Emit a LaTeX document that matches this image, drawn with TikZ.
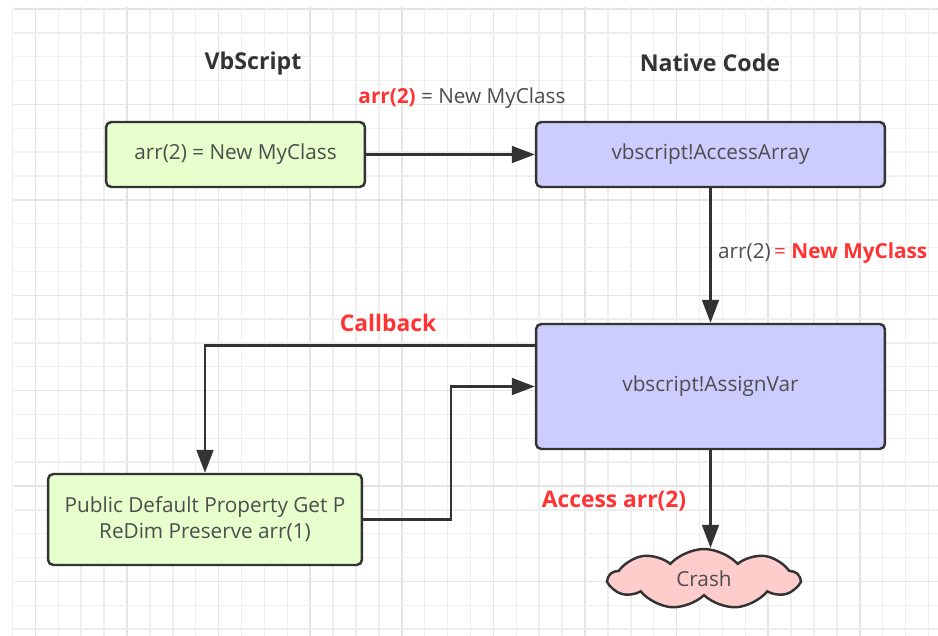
\documentclass[tikz,border=0pt]{standalone}
\usepackage{fontspec}
\setmainfont{Open Sans}
\usepackage{tikz}
\usetikzlibrary{shapes.symbols, positioning, arrows.meta, calc}
\definecolor{GridMinor}{RGB}{238,238,238}
\definecolor{GridMajor}{RGB}{228,228,228}
\definecolor{BoxLine}{RGB}{51,51,51}
\definecolor{BoxText}{RGB}{77,77,77}
\definecolor{VbGreen}{RGB}{230,255,204}
\definecolor{NatPurple}{RGB}{204,204,255}
\definecolor{CrashPink}{RGB}{255,204,204}
\definecolor{HotRed}{RGB}{255,51,51}

\begin{document}
\begin{tikzpicture}[x=0.02cm, y=-0.02cm,
            blk/.style={rectangle, rounded corners=3pt, draw=BoxLine,
                        line width=1.4pt, font=\fontsize{11.8}{15}\selectfont,
                        text=BoxText, align=center},
            arr/.style={-{Triangle[length=13pt, width=9.5pt]}, line width=1.4pt, BoxLine},
            hdr/.style={font=\fontsize{13.2}{16}\selectfont\bfseries, text=BoxLine},
            hot/.style={font=\fontsize{13}{16}\selectfont\bfseries, text=HotRed}
          ]
          \useasboundingbox (0,0) rectangle (938,636);
          % background grid
          \foreach \i in {0,...,40} {
            \pgfmathsetmacro{\gx}{12.5+22.9*\i}
            \pgfmathtruncatemacro{\mj}{mod(\i,4)}
            \ifnum\mj=1
              \draw[GridMajor, line width=0.8pt] (\gx,7) -- (\gx,636);
            \else
              \draw[GridMinor, line width=0.8pt] (\gx,7) -- (\gx,636);
            \fi
          }
          \foreach \j in {0,...,26} {
            \pgfmathsetmacro{\gy}{9+23.85*\j}
            \pgfmathtruncatemacro{\mj}{mod(\j,4)}
            \ifnum\mj=0
              \draw[GridMajor, line width=0.8pt] (14,\gy) -- (938,\gy);
            \else
              \draw[GridMinor, line width=0.8pt] (14,\gy) -- (938,\gy);
            \fi
          }

          % column titles
          \node[hdr] (vbTitle) at (253, 63) {VbScript};
          \node[hdr] (natTitle) at (710, 63) {Native Code};

          % boxes
          \node[blk, fill=VbGreen, minimum width=5.18cm, minimum height=1.3cm]
                (assign) at (235.5, 154.5) {arr(2) = New MyClass};
          \node[blk, fill=NatPurple, minimum width=6.98cm, minimum height=1.3cm]
                (access) at (710.5, 154.5) {vbscript!AccessArray};
          \node[blk, fill=NatPurple, minimum width=6.98cm, minimum height=2.5cm]
                (assignVar) at (710.5, 386.5) {vbscript!AssignVar};
          \node[blk, fill=VbGreen, minimum width=6.28cm, minimum height=1.82cm]
                (getP) at (205, 519.5) {Public Default Property Get P\\ReDim Preserve arr(1)};
          \node[cloud, cloud puffs=9, cloud puff arc=95, aspect=2.8, draw=BoxLine,
                line width=1.4pt, fill=CrashPink, font=\fontsize{11.8}{15}\selectfont,
                text=BoxText, minimum width=3.8cm, minimum height=1.2cm, inner sep=0pt]
                (crash) at (704, 579) {Crash};

          % connectors
          \draw[arr] (assign) -- (access);
          \draw[arr] (access) -- (assignVar);
          \draw[arr] ($(assignVar.north west)!0.18!(assignVar.south west)$) -| (getP.north);
          \draw[arr] (getP.east) -- ++(88,0) |- (assignVar.west);
          \draw[arr] (assignVar.south) -- (assignVar.south |- crash.north);

          % labels
          \node[font=\fontsize{11.8}{15}\selectfont, text=BoxText] (lblTop) at (462, 98)
                {\textcolor{HotRed}{\bfseries arr(2)} = New MyClass};
          \node[font=\fontsize{11.8}{15}\selectfont, text=BoxText, anchor=west] (lblDown)
                at (712, 253) {arr(2)\,\textcolor{HotRed}{= \bfseries New MyClass}};
          \node[hot] (lblCallback) at (388, 323) {Callback};
          \node[hot] (lblAccess) at (614, 501) {Access arr(2)};
        \end{tikzpicture}
\end{document}
